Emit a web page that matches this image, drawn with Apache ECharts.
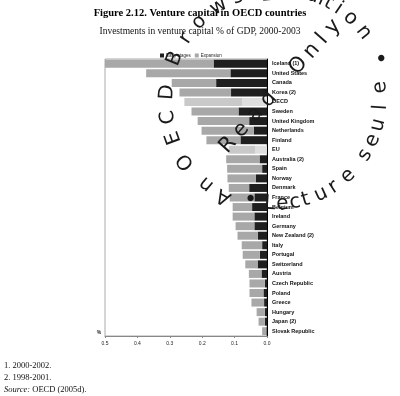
<!DOCTYPE html>
<html><head><meta charset="utf-8">
<script src="https://cdn.jsdelivr.net/npm/echarts@6/dist/echarts.min.js"></script>
<style>html,body{margin:0;padding:0;background:#fff}#c{width:400px;height:396px}</style>
</head><body><div id="c"></div>
<script>
const categories = ["Iceland (1)","United States","Canada","Korea (2)","OECD","Sweden","United Kingdom","Netherlands","Finland","EU","Australia (2)","Spain","Norway","Denmark","France","Belgium","Ireland","Germany","New Zealand (2)","Italy","Portugal","Switzerland","Austria","Czech Republic","Poland","Greece","Hungary","Japan (2)","Slovak Republic"];
const earlyStages = [0.165,0.113,0.157,0.111,0.077,0.088,0.055,0.041,0.082,0.037,0.023,0.015,0.035,0.055,0.039,0.046,0.039,0.039,0.028,0.015,0.022,0.029,0.017,0.007,0.011,0.009,0.007,0.007,0.002];
const expansion = [0.337,0.260,0.137,0.159,0.178,0.145,0.159,0.161,0.105,0.081,0.103,0.108,0.087,0.063,0.076,0.060,0.067,0.058,0.063,0.063,0.053,0.038,0.039,0.047,0.043,0.039,0.025,0.019,0.013];
const xTicks = [0.0,0.1,0.2,0.3,0.4,0.5];
const aggregates = ["OECD","EU"];
const seriesNames = ["Early stages","Expansion"];

const title = "Figure 2.12. Venture capital in OECD countries";
const subtitle = "Investments in venture capital % of GDP, 2000-2003";
const notes = ["1. 2000-2002.","2. 1998-2001."];

// watermark (decoration)
const wmCenter = [277,100];
const wmTop = [["A",119],["n",130],["O",146],["E",160],["C",171],["D",184],["B",202],["r",214],["o",225],["w",238],["s",249],["e",259],["_",265],["i",270],["t",274],["E",281],["d",289],["i",294],["t",298],["i",304],["o",312],["n",322],["•",338]];
const wmBottom = [["•",105],["L",94],["e",87],["c",80],["t",74],["u",65],["r",57],["e",47],["s",32],["e",23],["u",14],["l",4],["e",-7]];
const wmLine = [["R",0],["e",20],["a",41],["d",61],["O",106],["n",126],["l",142],["y",158]];

const colEarly = '#1f1f1f', colExp = '#a8a8a8', colEarlyAgg = '#dedede', colExpAgg = '#c9c9c9';

const graphics = [];
const d2r = Math.PI/180;
wmTop.forEach(([ch,a])=>{
  const r = 110;
  graphics.push({type:'text', x: wmCenter[0]+r*Math.cos(a*d2r), y: wmCenter[1]+r*Math.sin(a*d2r), rotation: -(a+90)*d2r, z:100,
    style:{text:ch, fontSize: ch==='•'?22:20, fontFamily:'DejaVu Sans', fill:'#1a1a1a', align:'center', verticalAlign:'middle'}});
});
wmBottom.forEach(([ch,a])=>{
  const r = 104;
  graphics.push({type:'text', x: wmCenter[0]+r*Math.cos(a*d2r), y: wmCenter[1]+r*Math.sin(a*d2r), rotation: (90-a)*d2r, z:100,
    style:{text:ch, fontSize: ch==='•'?22:20, fontFamily:'DejaVu Sans', fill:'#1a1a1a', align:'center', verticalAlign:'middle'}});
});
const lineStart=[228,145], lineDir=[0.665,-0.747];
wmLine.forEach(([ch,t])=>{
  graphics.push({type:'text', x: lineStart[0]+t*lineDir[0], y: lineStart[1]+t*lineDir[1], rotation: 48.3*d2r, z:100,
    style:{text:ch, fontSize: 21, fontFamily:'DejaVu Sans', fill:'#1a1a1a', align:'center', verticalAlign:'middle'}});
});
// titles and notes
graphics.push({type:'text', x:200, y:13, style:{text:title, font:'bold 10.5px "Liberation Serif"', fill:'#000', align:'center', verticalAlign:'middle'}});
graphics.push({type:'text', x:200, y:31, style:{text:subtitle, font:'9.5px "Liberation Serif"', fill:'#111', align:'center', verticalAlign:'middle'}});
graphics.push({type:'text', x:4, y:366, style:{text:notes[0], font:'8.5px "Liberation Serif"', fill:'#111', verticalAlign:'middle'}});
graphics.push({type:'text', x:4, y:378, style:{text:notes[1], font:'8.5px "Liberation Serif"', fill:'#111', verticalAlign:'middle'}});
graphics.push({type:'text', x:4, y:390, style:{text:'{i|Source:} OECD (2005d).', font:'8.5px "Liberation Serif"', fill:'#111', verticalAlign:'middle',
  rich:{i:{fontStyle:'italic', fontFamily:'Liberation Serif', fontSize:8.5, fill:'#111'}}}});
graphics.push({type:'text', x:99, y:333, style:{text:'%', font:'bold 5px "Liberation Sans"', fill:'#222', align:'center', verticalAlign:'middle'}});

const chart = echarts.init(document.getElementById('c'), null, {renderer:'canvas'});
chart.setOption({
  animation:false,
  textStyle:{fontFamily:'Liberation Sans'},
  legend:{data:seriesNames, left:155, top:48, itemWidth:4, itemHeight:4, itemGap:4, icon:'rect',
    textStyle:{fontSize:4.5, color:'#222', padding:[0,0,0,-3]}},
  grid:{left:105, right:133, top:59, bottom:60, show:true, borderColor:'#aaa', borderWidth:1},
  xAxis:{type:'value', min:0, max:0.5, interval:0.1, inverse:true, position:'bottom',
    axisLine:{show:true, lineStyle:{color:'#888', width:1}}, axisTick:{show:true, length:2, lineStyle:{color:'#888'}},
    splitLine:{show:false},
    axisLabel:{fontSize:5, color:'#222', margin:5, formatter:v=>v.toFixed(1)}},
  yAxis:{type:'category', data:categories, inverse:true, position:'right',
    axisLine:{show:true, lineStyle:{color:'#000', width:1}}, axisTick:{show:false},
    axisLabel:{fontSize:5.5, color:'#111', margin:5, fontWeight:'bold'}},
  series:[
    {name:seriesNames[0], type:'bar', stack:'t', barWidth:8, itemStyle:{color:colEarly},
     data: earlyStages.map((v,i)=> aggregates.includes(categories[i]) ? {value:v, itemStyle:{color:colEarlyAgg}} : v)},
    {name:seriesNames[1], type:'bar', stack:'t', barWidth:8, itemStyle:{color:colExp},
     data: expansion.map((v,i)=> aggregates.includes(categories[i]) ? {value:v, itemStyle:{color:colExpAgg}} : v)}
  ],
  graphic: graphics
});
</script></body></html>
